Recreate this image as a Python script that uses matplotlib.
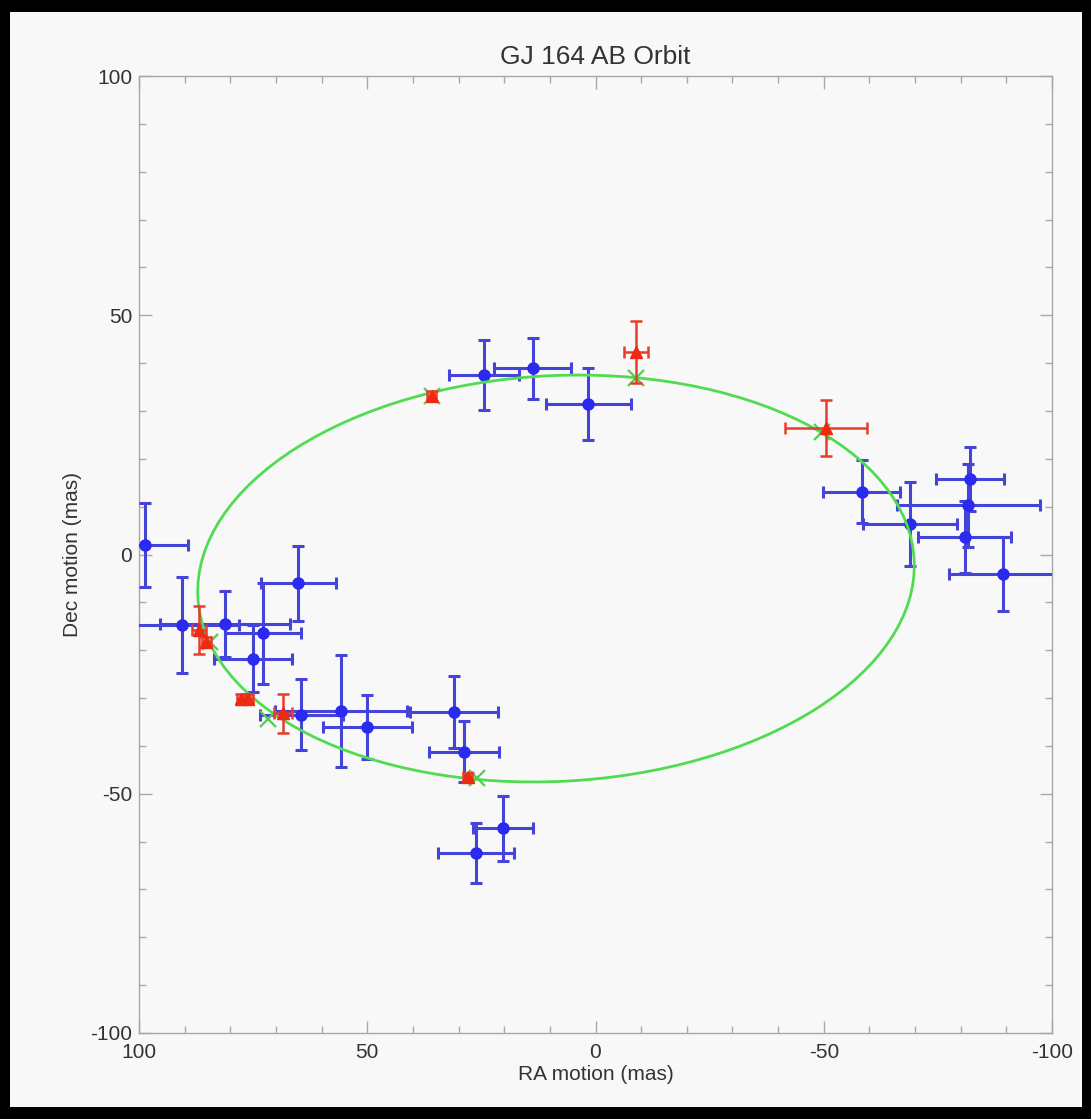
import matplotlib
matplotlib.use("Agg")
import matplotlib.pyplot as plt
from matplotlib.patches import Ellipse, Rectangle
from matplotlib.ticker import MultipleLocator

plt.rcParams['font.family'] = ['Liberation Sans', 'DejaVu Sans']
plt.rcParams['axes.unicode_minus'] = False

# Blue measurements: RA, Dec (mas) and errors
blue_ra = [98.7, 90.5, 81.2, 72.9, 75.0, 65.1, 64.5, 55.8, 50.0, 31.0, 28.8, 20.3, 26.2,
           24.4, 13.8, 1.6, -58.3, -68.9, -82.0, -81.7, -80.9, -89.2]
blue_dec = [2.0, -14.7, -14.6, -16.5, -21.8, -6.0, -33.5, -32.7, -36.1, -32.9, -41.2, -57.2, -62.4,
            37.5, 38.9, 31.5, 13.1, 6.4, 15.7, 10.3, 3.6, -4.1]
blue_ra_err = [9.5, 12.4, 14.2, 8.3, 8.6, 8.2, 9.1, 14.5, 9.8, 9.7, 7.6, 6.6, 8.4,
               7.7, 8.5, 9.3, 8.4, 10.2, 7.4, 15.6, 10.2, 11.8]
blue_dec_err = [8.8, 10.0, 6.9, 10.6, 7.0, 7.8, 7.4, 11.8, 6.7, 7.6, 6.4, 6.8, 6.3,
                7.3, 6.4, 7.5, 6.6, 8.8, 6.7, 8.7, 7.5, 7.8]

# Red measurements
red_ra = [35.9, -8.9, -50.5, 86.9, 85.3, 77.6, 76.1, 68.4, 28.0]
red_dec = [33.1, 42.4, 26.4, -15.8, -18.3, -30.1, -30.1, -33.2, -46.6]
red_ra_err = [1.0, 2.7, 9.0, 1.5, 1.0, 1.0, 1.0, 2.0, 1.0]
red_dec_err = [1.0, 6.5, 5.8, 5.0, 1.0, 1.0, 1.0, 4.0, 1.0]

# Model positions (green crosses)
model_ra = [35.9, -8.9, -49.6, 84.4, 71.7, 26.0]
model_dec = [33.1, 36.8, 25.6, -18.3, -34.4, -46.8]

# Orbit ellipse parameters (mas, degrees)
orbit_center = (8.65, -5.02)
orbit_width = 157.1
orbit_height = 84.8
orbit_angle = -2.78

W, H = 1091, 1119
fig = plt.figure(figsize=(W / 100, H / 100), dpi=100)
fig.patch.set_facecolor('black')
fig.add_artist(Rectangle((10 / W, 12 / H), (1082 - 10) / W, (1107 - 12) / H,
                         transform=fig.transFigure, facecolor='#f8f8f8',
                         edgecolor='none', zorder=-10))

ax = fig.add_axes([139 / W, 1 - 1033 / H, (1052 - 139) / W, (1033 - 76) / H])
ax.set_facecolor('#f8f8f8')

ax.errorbar(blue_ra, blue_dec, xerr=blue_ra_err, yerr=blue_dec_err, fmt='o',
            color='#2a2af0', ecolor='#4444d8', ms=8, elinewidth=2.2,
            capsize=4.5, capthick=2.2, zorder=3)

ax.add_patch(Ellipse(orbit_center, orbit_width, orbit_height, angle=orbit_angle,
                     fill=False, edgecolor='#50dc50', lw=2.0, zorder=4))

ax.plot(model_ra, model_dec, 'x', color='#55cc55', ms=11, mew=1.6, zorder=5)

ax.errorbar(red_ra, red_dec, xerr=red_ra_err, yerr=red_dec_err, fmt='^',
            color='#ee2a10', ecolor='#e83c2c', ms=8, elinewidth=1.8,
            capsize=4.5, capthick=1.8, zorder=6)

ax.set_xlim(100, -100)
ax.set_ylim(-100, 100)
ax.xaxis.set_major_locator(MultipleLocator(50))
ax.xaxis.set_minor_locator(MultipleLocator(10))
ax.yaxis.set_major_locator(MultipleLocator(50))
ax.yaxis.set_minor_locator(MultipleLocator(10))

for s in ax.spines.values():
    s.set_color('#a8a8a8')
    s.set_linewidth(1.0)
ax.tick_params(which='both', direction='in', top=True, right=True,
               color='#a8a8a8', labelcolor='#333333', labelsize=15)
ax.tick_params(which='major', length=9, width=1.0)
ax.tick_params(which='minor', length=5, width=1.0)
ax.tick_params(axis='x', pad=7)
ax.tick_params(axis='y', pad=5)

ax.set_xlabel('RA motion (mas)', fontsize=15, color='#333333', labelpad=2)
ax.set_ylabel('Dec motion (mas)', fontsize=15, color='#333333', labelpad=6)
ax.set_title('GJ 164 AB Orbit', fontsize=19, color='#333333', pad=9)

fig.savefig('out.png', dpi=100, facecolor=fig.get_facecolor())
